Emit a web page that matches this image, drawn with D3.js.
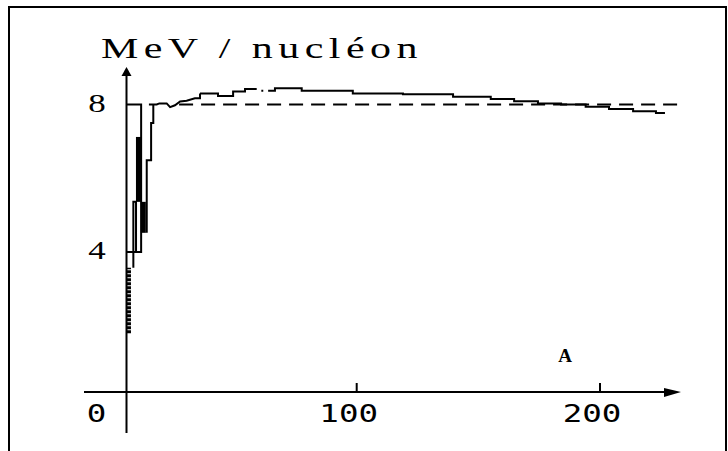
<!DOCTYPE html>
<html>
<head>
<meta charset="utf-8">
<script src="https://cdn.jsdelivr.net/npm/d3@7"></script>
<style>
body { margin: 0; background: #fff; }
svg { display: block; }
</style>
</head>
<body>
<svg></svg>
<script>
var width = 728;
var height = 451;

// tick labels
var xTicks = [0, 100, 200];
var xTickMarks = [100, 200];
var yTicks = [4, 8];

// light nuclei near the axis: polyline corners (A, MeV/nucleon), NaN = pen up
var earlyA = [8.2, 8.2, 9.3, 9.3, NaN, 5.6, 11.4, 11.4, 5.6, NaN,
              13.7, 13.7, 15.5, 15.5, 16.4, 16.4, 14.6, 17.8, 18.9, 21.9,
              23.3, 25.3, 27.4, 30.1, 33.5, 35.6, 35.6];
var earlyE = [3.57, 5.36, 5.36, 4.0, NaN, 4.0, 4.0, 8.0, 8.0, NaN,
              4.52, 6.49, 6.49, 7.50, 7.50, 8.0, 8.0, 8.0, 8.03, 8.03,
              7.93, 7.98, 8.08, 8.10, 8.17, 8.17, 8.30];

// heavy bars (overlapping strokes) near the axis
var barA    = [10.3, 12.3];
var barLow  = [5.36, 4.52];
var barHigh = [7.12, 5.36];
// hydrogen isotopes, dotted bar
var dotA    = [6.4];
var dotLow  = [1.80];
var dotHigh = [3.57];

// the plateau, drawn as steps (start of each level), NaN = gap
var stepA = [35.6, 43.0, 49.2, 54.1, 58.9, NaN, 60.8, 61.6, NaN,
             63.6, 66.4, 77.4, 98.4, 119.0, 139.6, 155.1, 164.7, 174.5,
             184.0, 194.1, 203.7, 213.6, 223.0, 226.7];
var stepE = [8.30, 8.23, 8.35, 8.42, 8.42, NaN, 8.37, 8.37, NaN,
             8.37, 8.44, 8.37, 8.30, 8.28, 8.21, 8.15, 8.09, 8.03,
             8.00, 7.94, 7.88, 7.82, 7.77, 7.77];

// reference level 8 MeV
var refA = [27, 234];
var refE = 8;

var originX = 126.5;
var originY = 392;
var serif = "'Liberation Serif', 'DejaVu Serif', serif";

var svg = d3.select("svg")
    .attr("width", width)
    .attr("height", height);

var xScale = d3.scaleLinear()
    .domain([100, 200])
    .range([356.7, 600]);

var yScale = d3.scaleLinear()
    .domain([4, 8])
    .range([252, 104.5]);

// frame
svg.append("rect")
    .attr("x", 9)
    .attr("y", 7)
    .attr("width", 717)
    .attr("height", 470)
    .attr("fill", "none")
    .attr("stroke", "#000")
    .attr("stroke-width", 2);

// axes
svg.append("line")
    .attr("x1", 84).attr("x2", 672)
    .attr("y1", originY).attr("y2", originY)
    .attr("stroke", "#000").attr("stroke-width", 2);
svg.append("path")
    .attr("d", "M681," + originY + "L664," + (originY - 4) + "L664," + (originY + 5) + "Z")
    .attr("fill", "#000");

svg.append("line")
    .attr("x1", originX).attr("x2", originX)
    .attr("y1", 433).attr("y2", 74)
    .attr("stroke", "#000").attr("stroke-width", 2);
svg.append("path")
    .attr("d", "M" + originX + ",67L" + (originX - 5) + ",76L" + (originX + 5) + ",76Z")
    .attr("fill", "#000");

svg.selectAll(".xtick")
    .data(xTickMarks)
    .enter()
    .append("line")
        .attr("class", "xtick")
        .attr("x1", function(d) { return xScale(d); })
        .attr("x2", function(d) { return xScale(d); })
        .attr("y1", originY)
        .attr("y2", originY - 9)
        .attr("stroke", "#000")
        .attr("stroke-width", 2);

// labels sit a little left of their tick; the 0 goes left of the y axis
svg.selectAll(".xlabel")
    .data(xTicks)
    .enter()
    .append("text")
        .attr("class", "xlabel")
        .attr("transform", function(d) {
            var x = xScale(d) - 8;
            if (x < originX) x = originX - 30;
            return "translate(" + x + "," + (originY + 30) + ") scale(1.3,1)";
        })
        .style("text-anchor", "middle")
        .style("font-family", "DejaVu Sans Mono")
        .style("font-size", "25px")
        .text(function(d) { return d; });

svg.selectAll(".ylabel")
    .data(yTicks)
    .enter()
    .append("text")
        .attr("class", "ylabel")
        .attr("transform", function(d) {
            return "translate(97," + (yScale(d) + 7) + ") scale(1.4,1)";
        })
        .style("text-anchor", "middle")
        .style("font-family", serif)
        .style("font-size", "25px")
        .text(function(d) { return d; });

// titles
svg.append("text")
    .attr("transform", "translate(101,58) scale(1.4,1)")
    .attr("textLength", 226)
    .attr("lengthAdjust", "spacing")
    .style("font-family", serif)
    .style("font-size", "30px")
    .text("MeV / nucléon");

svg.append("text")
    .attr("x", 565)
    .attr("y", 362)
    .style("text-anchor", "middle")
    .style("font-family", "Liberation Serif")
    .style("font-weight", "bold")
    .style("font-size", "19px")
    .text("A");

// dashed 8 MeV level
svg.append("line")
    .attr("x1", xScale(refA[0])).attr("x2", xScale(refA[1]))
    .attr("y1", yScale(refE)).attr("y2", yScale(refE))
    .attr("stroke", "#000")
    .attr("stroke-width", 2)
    .attr("stroke-dasharray", "14,8");

var lineLinear = d3.line()
    .defined(function(d) { return !isNaN(d[0]); })
    .x(function(d) { return xScale(d[0]); })
    .y(function(d) { return yScale(d[1]); });

var lineStep = d3.line()
    .defined(function(d) { return !isNaN(d[0]); })
    .x(function(d) { return xScale(d[0]); })
    .y(function(d) { return yScale(d[1]); })
    .curve(d3.curveStepAfter);

svg.append("path")
    .datum(d3.zip(earlyA, earlyE))
    .attr("d", lineLinear)
    .attr("fill", "none")
    .attr("stroke", "#000")
    .attr("stroke-width", 2);

svg.append("path")
    .datum(d3.zip(stepA, stepE))
    .attr("d", lineStep)
    .attr("fill", "none")
    .attr("stroke", "#000")
    .attr("stroke-width", 2);

svg.selectAll(".bar")
    .data(d3.zip(barA, barLow, barHigh))
    .enter()
    .append("line")
        .attr("class", "bar")
        .attr("x1", function(d) { return xScale(d[0]); })
        .attr("x2", function(d) { return xScale(d[0]); })
        .attr("y1", function(d) { return yScale(d[1]); })
        .attr("y2", function(d) { return yScale(d[2]); })
        .attr("stroke", "#000")
        .attr("stroke-width", 5);

svg.selectAll(".dotbar")
    .data(d3.zip(dotA, dotLow, dotHigh))
    .enter()
    .append("line")
        .attr("class", "dotbar")
        .attr("x1", function(d) { return xScale(d[0]); })
        .attr("x2", function(d) { return xScale(d[0]); })
        .attr("y1", function(d) { return yScale(d[1]); })
        .attr("y2", function(d) { return yScale(d[2]); })
        .attr("stroke", "#000")
        .attr("stroke-width", 4)
        .attr("stroke-dasharray", "3,1");
</script>
</body>
</html>
